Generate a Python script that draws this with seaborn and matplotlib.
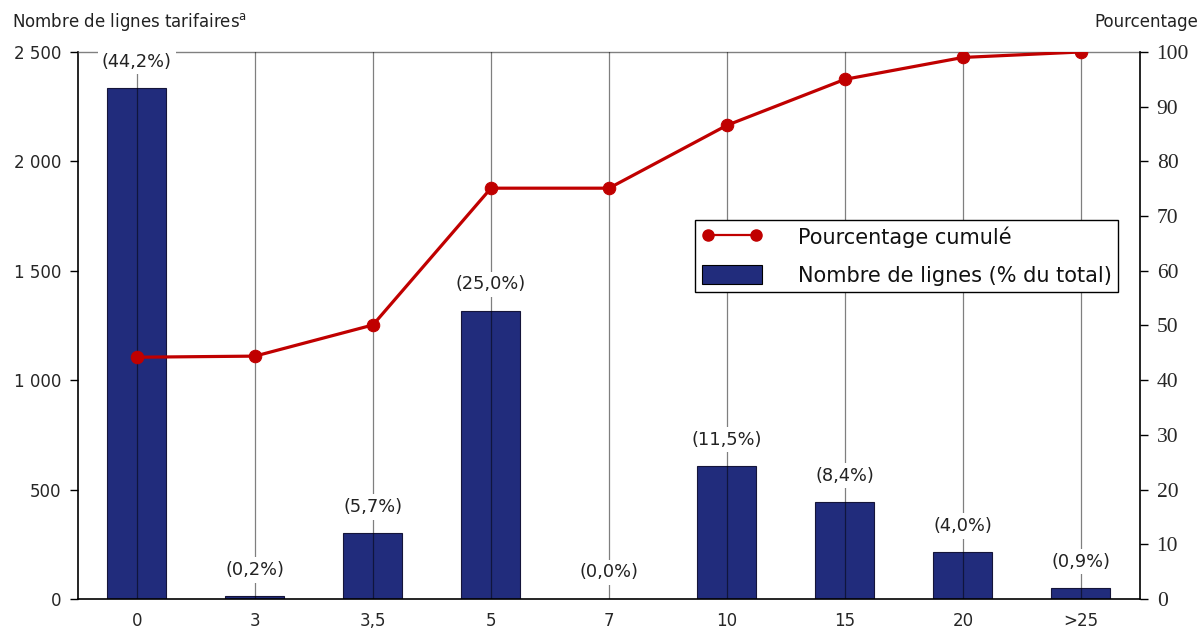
import matplotlib.pyplot as plt
import numpy as np
import seaborn as sns
from matplotlib.lines import Line2D
from matplotlib.patches import Patch

# data
categories = ['0', '3', '3,5', '5', '7', '10', '15', '20', '>25']
nb_lignes = [2335, 12, 300, 1317, 2, 608, 443, 213, 49]
pct_total = ['44,2', '0,2', '5,7', '25,0', '0,0', '11,5', '8,4', '4,0', '0,9']
pct_cumule = [44.2, 44.4, 50.1, 75.1, 75.1, 86.6, 95.0, 99.0, 100.0]
left_ticks = [0, 500, 1000, 1500, 2000, 2500]
right_ticks = list(range(0, 101, 10))
legend_labels = ['Pourcentage cumulé', 'Nombre de lignes (% du total)']

BAR_COLOR = '#212C7C'
LINE_COLOR = '#C00000'

sns.set_theme(style='white')
plt.rcParams['font.family'] = ['DejaVu Sans']

fig = plt.figure(figsize=(12.03, 6.3), dpi=100)
ax = fig.add_axes([0.0648, 0.0492, 0.8828, 0.8683])

sns.barplot(x=categories, y=nb_lignes, ax=ax, color=BAR_COLOR, saturation=1,
            width=0.5, edgecolor='#15153a', linewidth=0.8)

n = len(categories)
ax.set_xlim(-0.5, n - 0.5)
ax.set_ylim(0, 2500)
ax.set_yticks(left_ticks)
ax.set_yticklabels([f'{v:,}'.replace(',', ' ') for v in left_ticks], fontsize=12)
ax.set_xticks(range(n))
ax.set_xticklabels(categories, fontsize=12)
ax.set_xticks(np.arange(-0.5, n), minor=True)
ax.set_xlabel('')
ax.set_ylabel('')

# vertical guide lines through the categories, drawn over the bars
ax.set_axisbelow(False)
ax.grid(axis='x', which='major', color='black', alpha=0.5, lw=0.9)
ax.grid(axis='y', visible=False)

ax.tick_params(axis='x', which='major', length=0, pad=9)
ax.tick_params(axis='x', which='minor', length=6, width=1, color='#888888', direction='out')
ax.tick_params(axis='y', length=6, width=1, color='black', direction='out', left=True, pad=6)

for side in ['left', 'bottom']:
    ax.spines[side].set_color('black')
    ax.spines[side].set_linewidth(1.2)
ax.spines['top'].set_color('#808080')
ax.spines['top'].set_linewidth(1)
ax.spines['right'].set_visible(False)

# percentage labels above each bar
for i, (v, p) in enumerate(zip(nb_lignes, pct_total)):
    ax.annotate(f'({p}%)', xy=(i, v), xytext=(0, 19), textcoords='offset points',
                ha='center', va='center', fontsize=12.8, color='#222222',
                bbox=dict(boxstyle='square,pad=0.2', fc='white', ec='none'),
                zorder=4)

# cumulative percentage on the right axis
ax2 = ax.twinx()
sns.lineplot(x=np.arange(n), y=pct_cumule, ax=ax2, color=LINE_COLOR, lw=2.3,
             marker='o', markersize=9, markeredgecolor=LINE_COLOR)
ax2.set_xlim(-0.5, n - 0.5)
ax2.set_ylim(0, 100)
ax2.set_yticks(right_ticks)
ax2.set_yticklabels([str(v) for v in right_ticks], fontsize=15.5,
                    family='Liberation Serif')
ax2.set_xlabel('')
ax2.set_ylabel('')
ax2.tick_params(axis='y', length=6, width=1, color='black', direction='out', right=True, pad=6)
for side in ['top', 'left', 'bottom']:
    ax2.spines[side].set_visible(False)
ax2.spines['right'].set_color('black')
ax2.spines['right'].set_linewidth(1.2)

handles = [
    Line2D([], [], color=LINE_COLOR, lw=1.6, marker='o', markersize=8),
    Patch(facecolor=BAR_COLOR, edgecolor='black', lw=0.8),
]
leg = ax2.legend(handles, legend_labels, loc='upper right',
                 bbox_to_anchor=(0.979, 0.693), borderaxespad=0,
                 numpoints=2, fancybox=False, framealpha=1, edgecolor='black',
                 fontsize=15, handlelength=2.9, handleheight=1.0,
                 handletextpad=1.7, labelspacing=0.85, borderpad=0.3)
leg.get_frame().set_linewidth(1)
for t in leg.get_texts():
    t.set_color('#111111')

fig.text(12 / 1203, 1 - 22 / 630, 'Nombre de lignes tarifaires$^{\\mathrm{a}}$',
         fontsize=12, va='center', ha='left', color='#222222')
fig.text(1198 / 1203, 1 - 22 / 630, 'Pourcentage', fontsize=12, va='center',
         ha='right', color='#222222')

fig.savefig('out.png', dpi=100)
